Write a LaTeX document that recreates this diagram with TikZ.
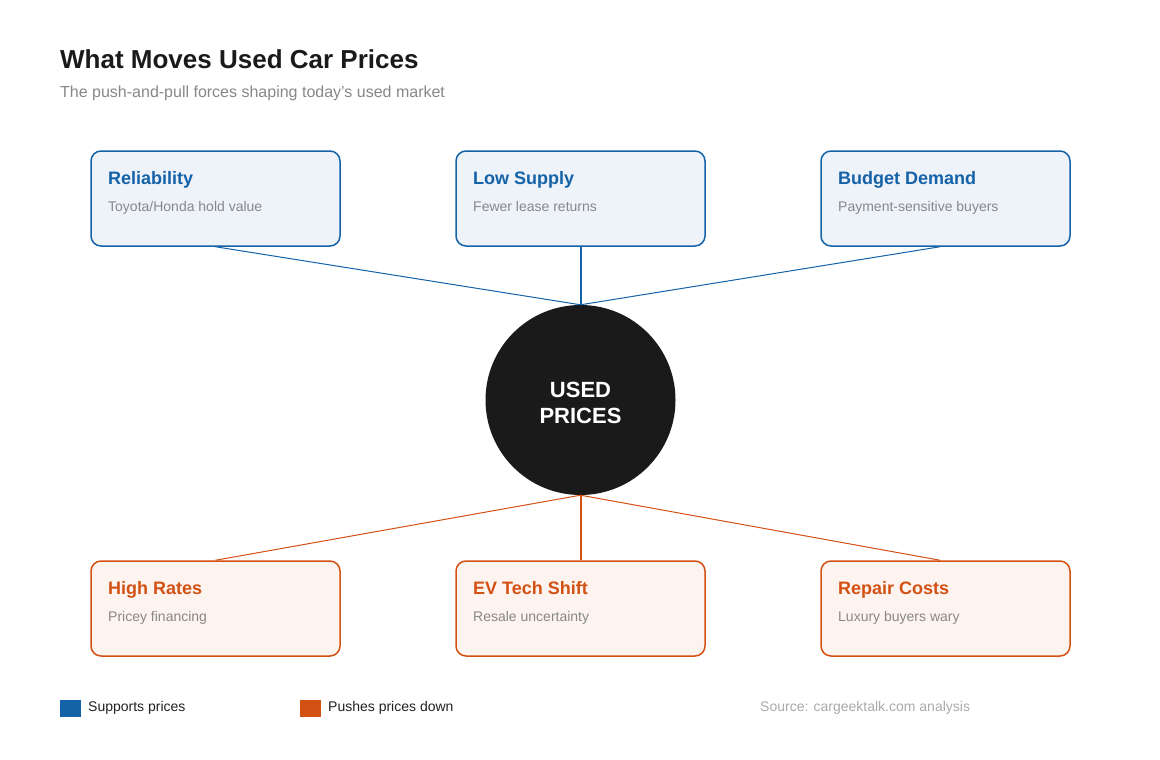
\documentclass[tikz,border=0pt]{standalone}
\usepackage{fontspec}
\setmainfont{Liberation Sans}
\definecolor{supblue}{HTML}{1462A8}
\definecolor{pushor}{HTML}{D35113}
\definecolor{bluefill}{HTML}{EEF2F9}
\definecolor{orfill}{HTML}{FDF3EF}
\definecolor{inkdark}{HTML}{1A1A1A}
\definecolor{greytxt}{HTML}{888888}
\definecolor{srctxt}{HTML}{AAAAAA}
\definecolor{legtxt}{HTML}{222222}
\tikzset{
  upbox/.style={draw=supblue, fill=bluefill, line width=1.5pt, rounded corners=10pt, minimum width=249pt, minimum height=95pt, inner sep=0pt},
  downbox/.style={draw=pushor, fill=orfill, line width=1.5pt, rounded corners=10pt, minimum width=249pt, minimum height=95pt, inner sep=0pt},
  boxtitle/.style={anchor=base west, inner sep=0pt, font=\fontsize{18}{21}\selectfont\bfseries},
  boxsub/.style={anchor=base west, inner sep=0pt, text=greytxt, font=\fontsize{14}{17}\selectfont},
  uplink/.style={draw=supblue, line width=1pt},
  downlink/.style={draw=pushor, line width=1pt},
  midup/.style={draw=supblue, line width=2pt},
  middown/.style={draw=pushor, line width=2pt},
  legsq/.style={minimum width=21pt, minimum height=17pt, inner sep=0pt, anchor=north west},
  legtext/.style={anchor=base west, inner sep=0pt, text=legtxt, font=\fontsize{14}{17}\selectfont}
}
\begin{document}
\begin{tikzpicture}[x=1pt,y=-1pt]
\useasboundingbox[fill=white] (0,0) rectangle (1160,760);
% title
\node[anchor=base west, inner sep=0pt, text=inkdark, font=\fontsize{26}{30}\selectfont\bfseries] (title) at (60,69) {What Moves Used Car Prices};
\node[anchor=base west, inner sep=0pt, text=greytxt, font=\fontsize{16}{19}\selectfont] (subtitle) at (60,97) {The push-and-pull forces shaping today's used market};
% center
\node[circle, fill=inkdark, minimum size=190pt, inner sep=0pt] (core) at (580.5,400) {};
\node[anchor=base, inner sep=0pt, text=white, font=\fontsize{22}{26}\selectfont\bfseries] (coreA) at (580.5,397.5) {USED};
\node[anchor=base, inner sep=0pt, text=white, font=\fontsize{22}{26}\selectfont\bfseries] (coreB) at (580.5,423.5) {PRICES};
% top boxes
\node[upbox] (rel) at (215.5,198.5) {};
\node[upbox] (sup) at (580.5,198.5) {};
\node[upbox] (bud) at (945.5,198.5) {};
\node[boxtitle, text=supblue] (relT) at (108,184) {Reliability};
\node[boxsub] (relS) at (108,211) {Toyota/Honda hold value};
\node[boxtitle, text=supblue] (supT) at (473,184) {Low Supply};
\node[boxsub] (supS) at (473,211) {Fewer lease returns};
\node[boxtitle, text=supblue] (budT) at (838,184) {Budget Demand};
\node[boxsub] (budS) at (838,211) {Payment-sensitive buyers};
% bottom boxes
\node[downbox] (rat) at (215.5,608.5) {};
\node[downbox] (evs) at (580.5,608.5) {};
\node[downbox] (rep) at (945.5,608.5) {};
\node[boxtitle, text=pushor] (ratT) at (108,594) {High Rates};
\node[boxsub] (ratS) at (108,621) {Pricey financing};
\node[boxtitle, text=pushor] (evsT) at (473,594) {EV Tech Shift};
\node[boxsub] (evsS) at (473,621) {Resale uncertainty};
\node[boxtitle, text=pushor] (repT) at (838,594) {Repair Costs};
\node[boxsub] (repS) at (838,621) {Luxury buyers wary};
% connectors
\draw[uplink] (rel.south) -- (core.north);
\draw[midup] (sup.south) -- (core.north);
\draw[uplink] ([xshift=-5.5pt]bud.south) -- (core.north);
\draw[downlink] (core.south) -- (rat.north);
\draw[middown] (core.south) -- (evs.north);
\draw[downlink] (core.south) -- ([xshift=-5.5pt]rep.north);
% legend
\node[legsq, fill=supblue] (legA) at (60,700) {};
\node[legtext] (legAT) at (88,711) {Supports prices};
\node[legsq, fill=pushor] (legB) at (300,700) {};
\node[legtext] (legBT) at (328,711) {Pushes prices down};
\node[anchor=base west, inner sep=0pt, text=srctxt, font=\fontsize{14}{17}\selectfont] (src) at (760,711) {Source: cargeektalk.com analysis};
\end{tikzpicture}
\end{document}
